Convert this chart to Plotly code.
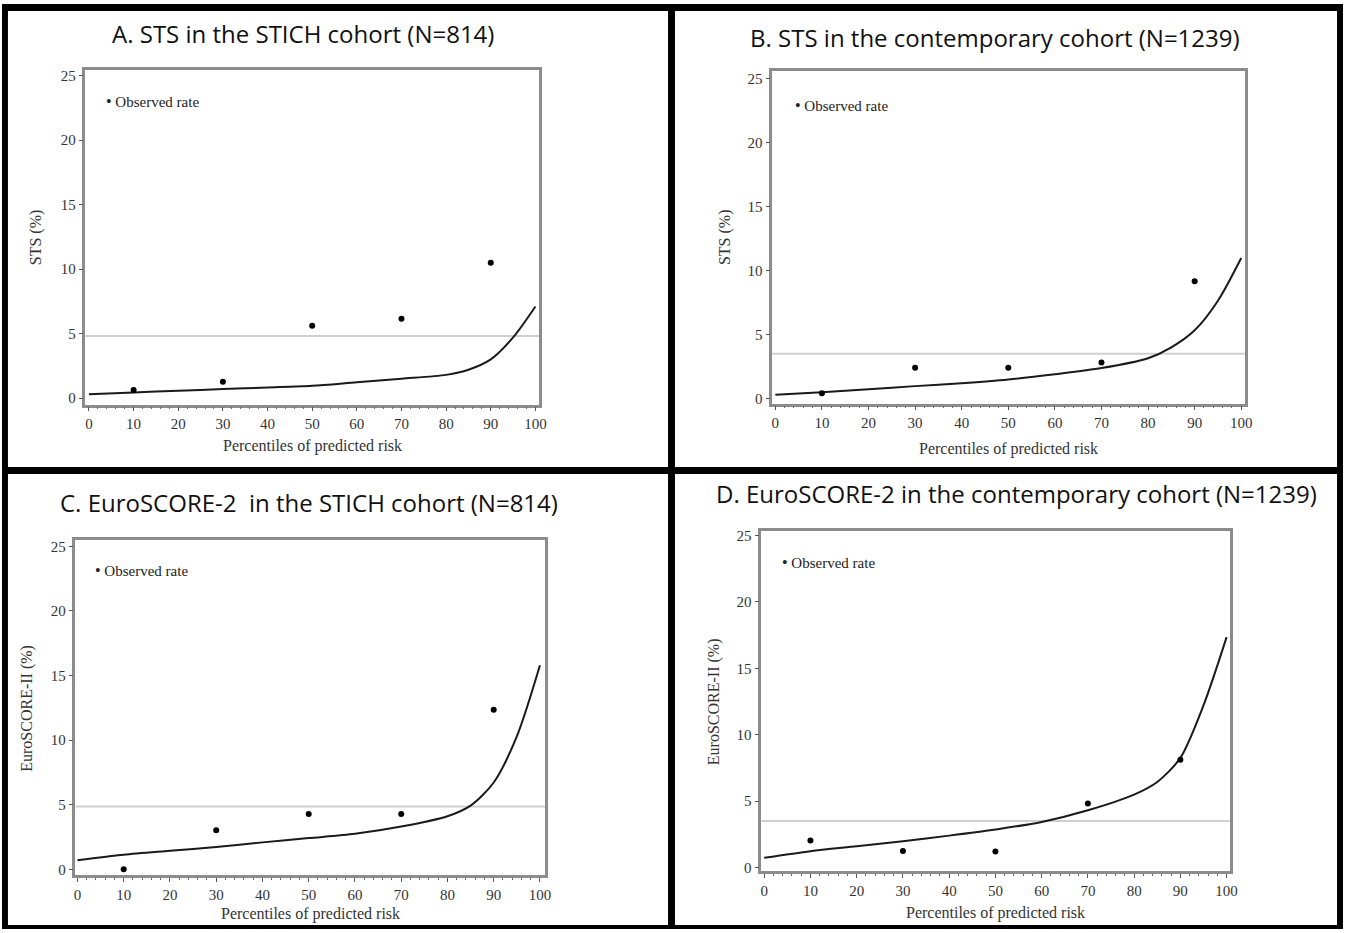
import plotly.graph_objects as go

# ---------------- data ----------------
percentile_grid = [0, 10, 20, 30, 40, 50, 60, 70, 80, 85, 90, 95, 100]
observed_percentiles = [10, 30, 50, 70, 90]

sts_stich_pred = [0.30, 0.44, 0.57, 0.70, 0.82, 0.95, 1.23, 1.50, 1.80, 2.20, 3.00, 4.70, 7.10]
sts_stich_obs = [0.62, 1.26, 5.60, 6.15, 10.50]
sts_stich_ref = 4.82

sts_contemp_pred = [0.30, 0.50, 0.73, 0.97, 1.20, 1.49, 1.90, 2.38, 3.15, 4.00, 5.33, 7.64, 10.97]
sts_contemp_obs = [0.41, 2.41, 2.41, 2.82, 9.15]
sts_contemp_ref = 3.50

es2_stich_pred = [0.72, 1.15, 1.45, 1.74, 2.10, 2.43, 2.76, 3.32, 4.12, 4.94, 6.73, 10.30, 15.80]
es2_stich_obs = [0.02, 3.04, 4.30, 4.30, 12.35]
es2_stich_ref = 4.88

es2_contemp_pred = [0.73, 1.23, 1.60, 1.98, 2.40, 2.86, 3.43, 4.31, 5.49, 6.44, 8.25, 12.20, 17.34]
es2_contemp_obs = [2.03, 1.25, 1.20, 4.81, 8.12]
es2_contemp_ref = 3.51

titles = [
    "A. STS in the STICH cohort (N=814)",
    "B. STS in the contemporary cohort (N=1239)",
    "C. EuroSCORE-2\u00a0\u00a0in the STICH cohort (N=814)",
    "D. EuroSCORE-2 in the contemporary cohort (N=1239)",
]
y_titles = ["STS (%)", "STS (%)", "EuroSCORE-II (%)", "EuroSCORE-II (%)"]
x_title = "Percentiles of predicted risk"
legend_label = "Observed rate"
x_ticks = [0, 10, 20, 30, 40, 50, 60, 70, 80, 90, 100]
y_ticks = [0, 5, 10, 15, 20, 25]

preds = [sts_stich_pred, sts_contemp_pred, es2_stich_pred, es2_contemp_pred]
obs = [sts_stich_obs, sts_contemp_obs, es2_stich_obs, es2_contemp_obs]
refs = [sts_stich_ref, sts_contemp_ref, es2_stich_ref, es2_contemp_ref]

# ---------------- layout helpers (pixel geometry) ----------------
W, H = 1351, 933
def px(x):
    return x / W
def py(y):
    return 1 - y / H

# frame: left, right, top, bottom (pixels); axis ranges
panels = [
    dict(l=84, r=541, t=67, b=404, xr=[-0.8, 100.8], yr=[-0.5, 25.4],
         title_xy=(303, 30), ytitle_x=35, xtitle_y=446, leg=(103, 98)),
    dict(l=776, r=1252, t=68, b=403, xr=[-0.66, 100.75], yr=[-0.39, 25.54],
         title_xy=(1000, 34), ytitle_x=729, xtitle_y=449, leg=(797, 102)),
    dict(l=74, r=547, t=541, b=879, xr=[-0.43, 101.08], yr=[-0.46, 25.46],
         title_xy=(309, 503), ytitle_x=25, xtitle_y=918, leg=(92, 571)),
    dict(l=765, r=1237, t=532, b=875, xr=[-0.62, 100.7], yr=[-0.3, 25.3],
         title_xy=(1022, 494), ytitle_x=718, xtitle_y=917, leg=(784, 563)),
]

SERIF = "Liberation Serif, Times New Roman, serif"
SANS = "Open Sans, Lato, sans-serif"
FRAME = "#8c8c8c"

fig = go.Figure()
annotations = []
shapes = []

for i, p in enumerate(panels):
    n = "" if i == 0 else str(i + 1)
    xa, ya = "x" + n, "y" + n
    # predicted curve
    fig.add_trace(go.Scatter(
        x=percentile_grid, y=preds[i], mode="lines",
        line=dict(color="#1a1a1a", width=2, shape="spline", smoothing=0.8),
        xaxis=xa, yaxis=ya, showlegend=False, hoverinfo="skip"))
    # observed points
    fig.add_trace(go.Scatter(
        x=observed_percentiles, y=obs[i], mode="markers",
        marker=dict(color="black", size=6),
        xaxis=xa, yaxis=ya, showlegend=False, name=legend_label))

    axis_common = dict(
        showgrid=False, zeroline=False, showline=True, mirror=True,
        linecolor=FRAME, linewidth=2.5,
        ticks="outside", ticklen=4, tickwidth=1, tickcolor="#555",
        tickfont=dict(family=SERIF, size=15, color="#333"),
    )
    fig.layout["xaxis" + n] = dict(
        axis_common, domain=[px(p["l"]), px(p["r"])], range=p["xr"],
        tickvals=x_ticks, anchor=ya,
        minor=dict(dtick=2, ticklen=2, tickcolor="#666", ticks="outside"),
    )
    fig.layout["yaxis" + n] = dict(
        axis_common, domain=[py(p["b"]), py(p["t"])], range=p["yr"],
        tickvals=y_ticks, anchor=xa,
    )
    # reference line (overall observed rate)
    shapes.append(dict(type="line", xref=xa + " domain", yref=ya,
                       x0=0, x1=1, y0=refs[i], y1=refs[i],
                       line=dict(color="#cfcfcf", width=2), layer="below"))
    # panel title
    tx, ty = p["title_xy"]
    annotations.append(dict(text=titles[i], x=px(tx), y=py(ty), xref="paper", yref="paper",
                            showarrow=False, xanchor="center", yanchor="middle",
                            font=dict(family=SANS, size=24, color="#111")))
    # y-axis title
    annotations.append(dict(text=y_titles[i], x=px(p["ytitle_x"]), y=py((p["t"] + p["b"]) / 2),
                            xref="paper", yref="paper", showarrow=False, textangle=-90,
                            xanchor="center", yanchor="middle",
                            font=dict(family=SERIF, size=16, color="#333")))
    # x-axis title
    annotations.append(dict(text=x_title, x=px((p["l"] + p["r"]) / 2), y=py(p["xtitle_y"]),
                            xref="paper", yref="paper", showarrow=False,
                            xanchor="center", yanchor="middle",
                            font=dict(family=SERIF, size=16, color="#333")))
    # legend entry
    lx, ly = p["leg"]
    annotations.append(dict(text="<span style='font-size:16px'>\u2022</span> " + legend_label,
                            x=px(lx), y=py(ly), xref="paper", yref="paper", showarrow=False,
                            xanchor="left", yanchor="middle",
                            font=dict(family=SERIF, size=15, color="#222")))

# black panel borders
border = dict(type="rect", xref="paper", yref="paper", line=dict(width=0), fillcolor="black", layer="above")
for (x0, y0, x1, y1) in [(0, 0, 1351, 7), (0, 0, 6, 933), (1345, 0, 1351, 933),
                         (0, 929, 1351, 933), (671, 0, 678, 933), (0, 467, 1351, 474)]:
    shapes.append(dict(border, x0=px(x0), x1=px(x1), y0=py(y1), y1=py(y0)))

fig.update_layout(
    width=W, height=H, autosize=False,
    margin=dict(l=0, r=0, t=0, b=0),
    paper_bgcolor="white", plot_bgcolor="white",
    annotations=annotations, shapes=shapes, showlegend=False,
)

fig.write_html("out.html")
